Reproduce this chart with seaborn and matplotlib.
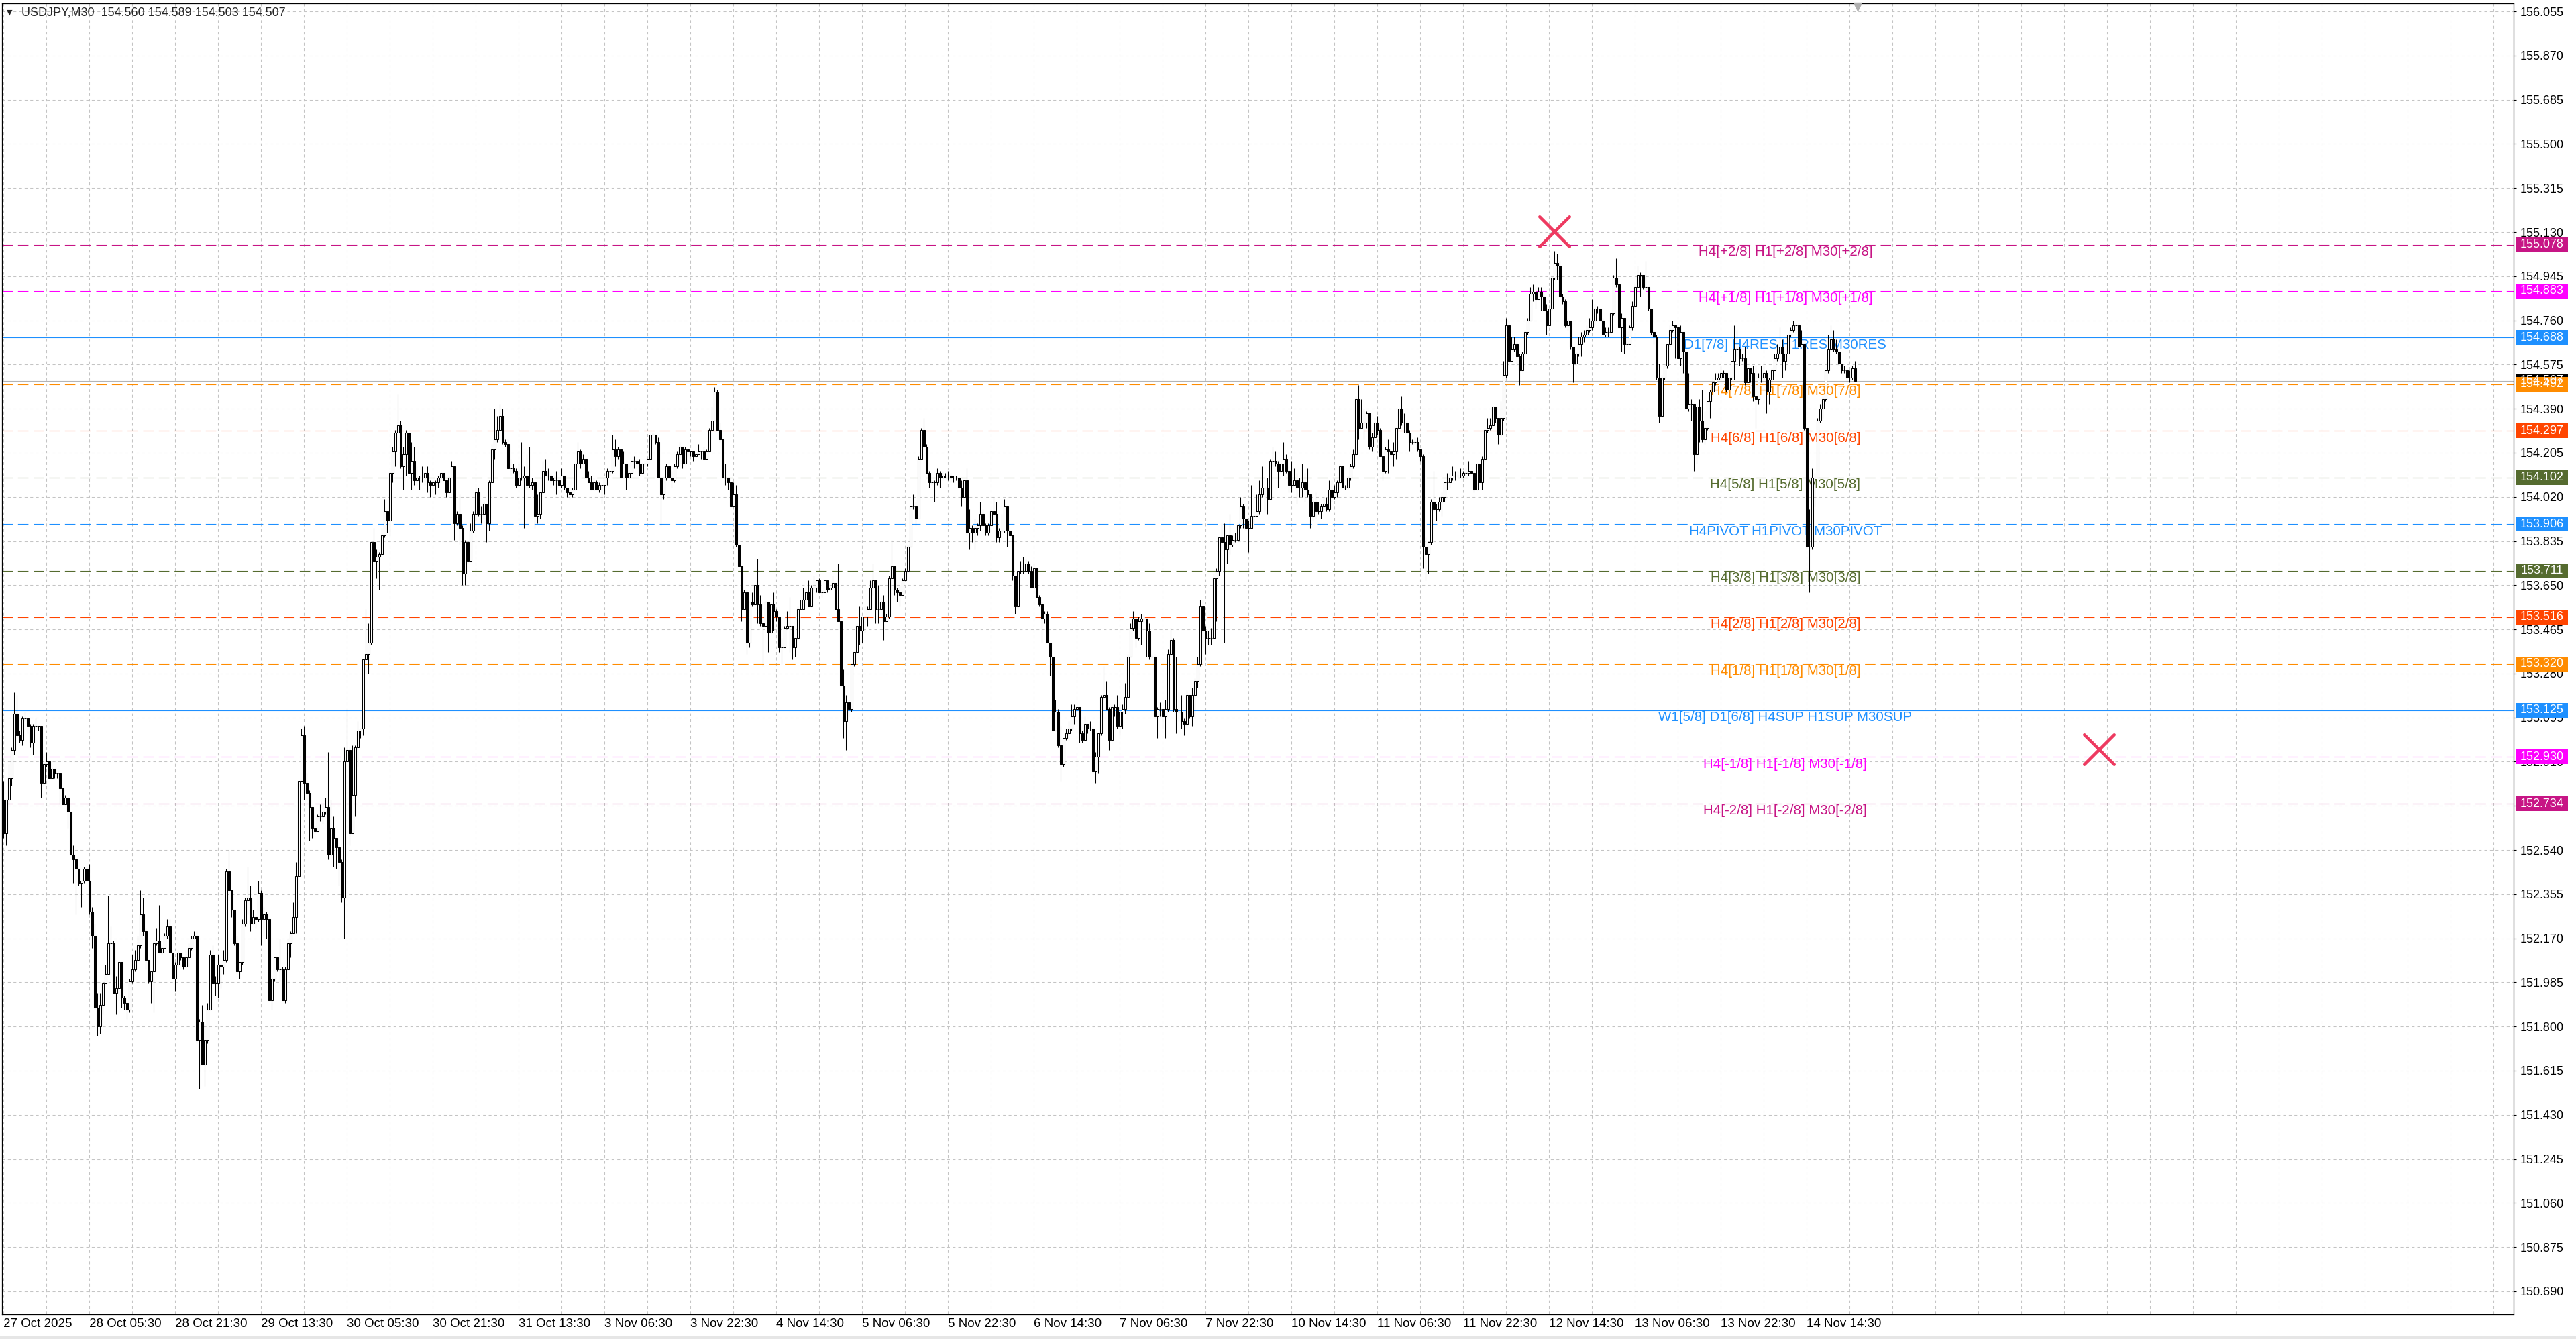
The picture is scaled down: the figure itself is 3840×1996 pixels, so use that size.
import matplotlib
matplotlib.use("Agg")
import matplotlib.pyplot as plt
import matplotlib.transforms as mtransforms
from matplotlib.patches import Rectangle
import numpy as np
import seaborn as sns

# ========================== Data ===================================
SYMBOL = "USDJPY,M30"
LAST_OHLC = [154.560, 154.589, 154.503, 154.507]
FIRST_OPEN = 152.75

# M30 closes (27 Oct 13:30 -> 14 Nov)
closes = [
    152.61, 152.75, 152.84, 152.96, 153.11, 153.02, 153.00, 153.09, 153.09, 153.06,
    152.99, 153.06, 153.06, 153.06, 152.82, 152.90, 152.91, 152.84, 152.88, 152.86,
    152.86, 152.80, 152.73, 152.76, 152.70, 152.52, 152.50, 152.46, 152.40, 152.41,
    152.46, 152.41, 152.28, 152.18, 151.88, 151.80, 151.89, 151.98, 152.02, 152.15,
    152.15, 151.94, 151.96, 152.07, 151.92, 151.90, 151.87, 151.99, 152.04, 152.08,
    152.14, 152.27, 152.20, 152.08, 151.99, 152.03, 152.15, 152.16, 152.11, 152.13,
    152.18, 152.22, 152.11, 152.00, 152.06, 152.11, 152.09, 152.05, 152.09, 152.13,
    152.17, 152.18, 151.74, 151.82, 151.64, 151.74, 151.87, 152.10, 151.98, 151.98,
    152.06, 152.05, 152.08, 152.45, 152.37, 152.29, 152.15, 152.03, 152.07, 152.23,
    152.33, 152.34, 152.23, 152.26, 152.25, 152.36, 152.25, 152.27, 152.25, 151.91,
    152.00, 152.09, 152.04, 152.04, 151.91, 152.04, 152.15, 152.19, 152.26, 152.43,
    152.83, 153.02, 152.82, 152.78, 152.72, 152.63, 152.62, 152.68, 152.68, 152.70,
    152.72, 152.52, 152.63, 152.59, 152.55, 152.49, 152.34, 152.91, 152.96, 152.61,
    152.77, 152.97, 153.04, 153.05, 153.34, 153.36, 153.41, 153.83, 153.75, 153.77,
    153.78, 153.86, 153.96, 153.92, 154.12, 154.21, 154.29, 154.32, 154.15, 154.20,
    154.29, 154.12, 154.17, 154.09, 154.10, 154.10, 154.10, 154.12, 154.08, 154.07,
    154.08, 154.08, 154.10, 154.12, 154.09, 154.04, 154.10, 154.15, 153.91, 153.95,
    153.89, 153.70, 153.83, 153.75, 153.88, 153.95, 154.04, 153.95, 153.95, 153.99,
    153.91, 154.08, 154.22, 154.26, 154.30, 154.36, 154.25, 154.24, 154.14, 154.14,
    154.13, 154.07, 154.10, 154.10, 154.11, 154.07, 154.07, 154.08, 153.94, 153.95,
    154.04, 154.13, 154.11, 154.11, 154.09, 154.09, 154.09, 154.07, 154.11, 154.06,
    154.04, 154.03, 154.05, 154.16, 154.21, 154.16, 154.18, 154.10, 154.08, 154.05,
    154.08, 154.05, 154.07, 154.07, 154.10, 154.13, 154.13, 154.22, 154.19, 154.22,
    154.10, 154.16, 154.10, 154.12, 154.17, 154.17, 154.16, 154.12, 154.16, 154.16,
    154.18, 154.28, 154.28, 154.25, 154.10, 154.03, 154.10, 154.15, 154.10, 154.09,
    154.15, 154.20, 154.23, 154.16, 154.22, 154.21, 154.21, 154.19, 154.20, 154.21,
    154.21, 154.18, 154.21, 154.30, 154.34, 154.46, 154.30, 154.26, 154.10, 154.10,
    154.08, 153.98, 154.03, 153.82, 153.73, 153.55, 153.62, 153.41, 153.58, 153.57,
    153.65, 153.57, 153.49, 153.48, 153.58, 153.45, 153.57, 153.54, 153.52, 153.39,
    153.39, 153.47, 153.48, 153.48, 153.39, 153.43, 153.55, 153.55, 153.59, 153.62,
    153.56, 153.64, 153.64, 153.67, 153.62, 153.62, 153.67, 153.63, 153.64, 153.66,
    153.55, 153.50, 153.23, 153.08, 153.16, 153.13, 153.32, 153.37, 153.48, 153.46,
    153.52, 153.52, 153.55, 153.64, 153.67, 153.55, 153.55, 153.58, 153.50, 153.52,
    153.68, 153.73, 153.63, 153.62, 153.61, 153.67, 153.71, 153.81, 153.98, 153.98,
    153.93, 154.18, 154.30, 154.23, 154.12, 154.08, 154.08, 154.08, 154.12, 154.10,
    154.11, 154.11, 154.11, 154.10, 154.10, 154.10, 154.06, 154.02, 154.09, 153.87,
    153.89, 153.87, 153.89, 153.90, 153.95, 153.90, 153.87, 153.90, 153.96, 153.95,
    153.85, 153.88, 153.88, 153.98, 153.88, 153.86, 153.69, 153.56, 153.71, 153.71,
    153.71, 153.74, 153.71, 153.64, 153.72, 153.60, 153.57, 153.51, 153.53, 153.41,
    153.35, 153.04, 153.12, 152.98, 152.90, 153.01, 153.03, 153.05, 153.10, 153.13,
    153.14, 153.03, 153.00, 153.07, 153.05, 153.05, 152.87, 152.93, 153.03, 153.18,
    153.19, 153.13, 153.00, 153.14, 153.14, 153.06, 153.12, 153.13, 153.18, 153.35,
    153.47, 153.51, 153.43, 153.50, 153.51, 153.51, 153.46, 153.35, 153.35, 153.10,
    153.13, 153.13, 153.10, 153.13, 153.36, 153.42, 153.13, 153.12, 153.12, 153.08,
    153.07, 153.19, 153.10, 153.19, 153.25, 153.32, 153.56, 153.46, 153.43, 153.43,
    153.43, 153.68, 153.71, 153.85, 153.83, 153.80, 153.86, 153.82, 153.84, 153.84,
    153.90, 153.98, 153.93, 153.89, 153.89, 153.94, 153.94, 153.96, 154.03, 154.06,
    154.06, 154.01, 154.17, 154.17, 154.16, 154.13, 154.16, 154.18, 154.13, 154.07,
    154.07, 154.09, 154.06, 154.06, 154.08, 154.05, 154.03, 153.94, 154.00, 153.96,
    153.96, 153.98, 153.99, 153.97, 154.05, 154.02, 154.04, 154.08, 154.15, 154.06,
    154.06, 154.10, 154.15, 154.20, 154.43, 154.31, 154.33, 154.33, 154.37, 154.23,
    154.27, 154.33, 154.30, 154.19, 154.13, 154.22, 154.21, 154.20, 154.21, 154.31,
    154.39, 154.33, 154.33, 154.29, 154.25, 154.25, 154.25, 154.22, 154.19, 153.81,
    153.78, 153.83, 154.00, 153.97, 153.97, 154.00, 154.02, 154.08, 154.08, 154.10,
    154.11, 154.11, 154.11, 154.11, 154.12, 154.12, 154.13, 154.12, 154.05, 154.16,
    154.08, 154.18, 154.30, 154.31, 154.32, 154.40, 154.35, 154.28, 154.35, 154.53,
    154.74, 154.59, 154.64, 154.66, 154.61, 154.55, 154.62, 154.71, 154.76, 154.87,
    154.88, 154.85, 154.88, 154.86, 154.80, 154.74, 154.81, 154.94, 155.00, 154.99,
    154.86, 154.84, 154.74, 154.76, 154.65, 154.58, 154.62, 154.66, 154.69, 154.70,
    154.72, 154.73, 154.76, 154.81, 154.81, 154.76, 154.70, 154.71, 154.71, 154.79,
    154.94, 154.91, 154.73, 154.77, 154.66, 154.66, 154.73, 154.82, 154.90, 154.95,
    154.95, 154.90, 154.90, 154.81, 154.71, 154.69, 154.52, 154.36, 154.52, 154.57,
    154.66, 154.72, 154.74, 154.73, 154.60, 154.71, 154.63, 154.39, 154.41, 154.41,
    154.20, 154.40, 154.34, 154.26, 154.31, 154.42, 154.46, 154.50, 154.51, 154.52,
    154.54, 154.54, 154.47, 154.52, 154.59, 154.64, 154.64, 154.60, 154.60, 154.50,
    154.56, 154.54, 154.44, 154.43, 154.52, 154.52, 154.54, 154.46, 154.51, 154.55,
    154.60, 154.62, 154.65, 154.59, 154.62, 154.70, 154.72, 154.74, 154.74, 154.65,
    154.66, 154.31, 153.81, 153.81, 154.10, 154.10, 154.34, 154.39, 154.43, 154.55,
    154.64, 154.68, 154.64, 154.63, 154.58, 154.55, 154.55, 154.52, 154.52, 154.56,
    154.507,
]

highs = [
    152.83, 152.75, 152.90, 152.97, 153.20, 153.19, 153.04, 153.10, 153.12, 153.09,
    153.07, 153.07, 153.09, 153.06, 153.06, 152.90, 152.95, 152.90, 152.88, 152.87,
    152.86, 152.82, 152.80, 152.77, 152.76, 152.70, 152.56, 152.50, 152.46, 152.41,
    152.47, 152.47, 152.48, 152.30, 152.23, 151.94, 151.94, 151.99, 152.06, 152.35,
    152.22, 152.16, 152.01, 152.08, 152.07, 151.93, 151.90, 152.00, 152.10, 152.12,
    152.18, 152.37, 152.34, 152.21, 152.08, 152.03, 152.16, 152.21, 152.31, 152.14,
    152.19, 152.25, 152.25, 152.11, 152.07, 152.12, 152.11, 152.09, 152.12, 152.15,
    152.18, 152.20, 152.20, 151.83, 151.89, 151.81, 151.90, 152.12, 152.14, 152.01,
    152.10, 152.08, 152.12, 152.46, 152.54, 152.37, 152.29, 152.18, 152.07, 152.25,
    152.34, 152.47, 152.39, 152.29, 152.27, 152.41, 152.37, 152.30, 152.28, 152.25,
    152.01, 152.09, 152.09, 152.17, 152.05, 152.05, 152.17, 152.20, 152.32, 152.49,
    152.83, 153.05, 153.06, 152.86, 152.79, 152.70, 152.64, 152.69, 152.73, 152.73,
    152.76, 152.95, 152.75, 152.68, 152.59, 152.56, 152.50, 152.97, 153.13, 152.97,
    152.98, 152.98, 153.08, 153.05, 153.34, 153.55, 153.49, 153.83, 153.89, 153.80,
    153.79, 153.89, 154.01, 153.96, 154.13, 154.23, 154.30, 154.45, 154.34, 154.23,
    154.30, 154.29, 154.25, 154.23, 154.15, 154.11, 154.15, 154.12, 154.15, 154.09,
    154.08, 154.09, 154.11, 154.12, 154.12, 154.07, 154.11, 154.17, 154.12, 153.96,
    154.03, 153.90, 153.84, 153.84, 153.91, 153.96, 154.06, 154.06, 153.98, 154.00,
    153.99, 154.09, 154.24, 154.39, 154.36, 154.41, 154.39, 154.26, 154.26, 154.18,
    154.16, 154.14, 154.16, 154.25, 154.15, 154.20, 154.23, 154.10, 154.08, 154.03,
    154.04, 154.17, 154.18, 154.14, 154.12, 154.10, 154.13, 154.09, 154.14, 154.11,
    154.06, 154.05, 154.06, 154.16, 154.25, 154.22, 154.20, 154.18, 154.13, 154.11,
    154.10, 154.09, 154.08, 154.07, 154.10, 154.14, 154.13, 154.28, 154.26, 154.23,
    154.22, 154.21, 154.16, 154.16, 154.17, 154.19, 154.18, 154.18, 154.16, 154.17,
    154.18, 154.28, 154.29, 154.28, 154.27, 154.09, 154.10, 154.16, 154.15, 154.13,
    154.16, 154.21, 154.25, 154.23, 154.23, 154.22, 154.21, 154.21, 154.20, 154.24,
    154.21, 154.23, 154.22, 154.31, 154.40, 154.48, 154.47, 154.33, 154.26, 154.16,
    154.10, 154.08, 154.08, 154.07, 153.82, 153.73, 153.63, 153.63, 153.58, 153.62,
    153.65, 153.76, 153.61, 153.49, 153.58, 153.58, 153.58, 153.62, 153.55, 153.52,
    153.43, 153.48, 153.54, 153.60, 153.48, 153.43, 153.56, 153.59, 153.64, 153.64,
    153.67, 153.65, 153.69, 153.67, 153.68, 153.63, 153.67, 153.66, 153.65, 153.69,
    153.66, 153.74, 153.50, 153.30, 153.19, 153.17, 153.32, 153.37, 153.49, 153.56,
    153.52, 153.56, 153.56, 153.67, 153.74, 153.67, 153.65, 153.60, 153.61, 153.53,
    153.69, 153.84, 153.73, 153.64, 153.65, 153.68, 153.72, 153.82, 153.98, 154.03,
    154.00, 154.19, 154.31, 154.35, 154.24, 154.13, 154.09, 154.09, 154.14, 154.13,
    154.13, 154.12, 154.13, 154.12, 154.11, 154.11, 154.10, 154.09, 154.09, 154.14,
    153.97, 153.90, 153.93, 153.91, 154.00, 153.97, 153.91, 153.91, 153.97, 154.02,
    154.00, 153.89, 153.95, 154.01, 153.98, 153.88, 153.86, 153.69, 153.71, 153.75,
    153.77, 153.76, 153.75, 153.73, 153.74, 153.72, 153.61, 153.58, 153.54, 153.54,
    153.41, 153.35, 153.17, 153.13, 153.06, 153.01, 153.05, 153.08, 153.15, 153.15,
    153.14, 153.14, 153.04, 153.10, 153.07, 153.08, 153.06, 152.95, 153.03, 153.19,
    153.31, 153.25, 153.14, 153.15, 153.15, 153.19, 153.15, 153.15, 153.24, 153.36,
    153.49, 153.54, 153.52, 153.52, 153.53, 153.53, 153.51, 153.49, 153.36, 153.36,
    153.14, 153.16, 153.13, 153.17, 153.38, 153.47, 153.43, 153.35, 153.20, 153.19,
    153.09, 153.21, 153.19, 153.22, 153.26, 153.35, 153.59, 153.59, 153.48, 153.46,
    153.47, 153.70, 153.72, 153.85, 153.91, 153.91, 153.86, 153.95, 153.86, 153.87,
    153.91, 154.02, 153.99, 153.93, 153.92, 154.07, 153.97, 154.03, 154.09, 154.15,
    154.06, 154.10, 154.18, 154.23, 154.21, 154.17, 154.18, 154.25, 154.20, 154.15,
    154.17, 154.14, 154.12, 154.10, 154.16, 154.12, 154.14, 154.03, 154.01, 154.04,
    154.00, 153.99, 154.02, 154.02, 154.09, 154.09, 154.07, 154.09, 154.16, 154.08,
    154.07, 154.11, 154.16, 154.22, 154.44, 154.49, 154.43, 154.39, 154.38, 154.37,
    154.29, 154.35, 154.36, 154.31, 154.21, 154.23, 154.26, 154.22, 154.25, 154.31,
    154.39, 154.44, 154.37, 154.34, 154.30, 154.26, 154.27, 154.27, 154.22, 154.20,
    153.85, 153.83, 154.01, 154.13, 153.99, 154.02, 154.04, 154.08, 154.12, 154.12,
    154.15, 154.13, 154.13, 154.14, 154.13, 154.14, 154.17, 154.13, 154.13, 154.16,
    154.16, 154.19, 154.31, 154.35, 154.35, 154.40, 154.40, 154.35, 154.42, 154.59,
    154.77, 154.76, 154.69, 154.69, 154.67, 154.62, 154.63, 154.72, 154.77, 154.90,
    154.91, 154.90, 154.90, 154.90, 154.87, 154.83, 154.81, 154.95, 155.05, 155.04,
    155.01, 154.87, 154.85, 154.77, 154.76, 154.65, 154.63, 154.69, 154.71, 154.72,
    154.74, 154.77, 154.85, 154.83, 154.82, 154.78, 154.77, 154.73, 154.73, 154.79,
    154.95, 155.02, 154.91, 154.79, 154.77, 154.72, 154.74, 154.84, 154.91, 154.99,
    154.96, 154.95, 155.01, 154.90, 154.81, 154.72, 154.70, 154.58, 154.53, 154.57,
    154.66, 154.74, 154.76, 154.74, 154.74, 154.74, 154.71, 154.63, 154.54, 154.43,
    154.41, 154.40, 154.43, 154.47, 154.38, 154.42, 154.47, 154.52, 154.54, 154.54,
    154.57, 154.55, 154.54, 154.52, 154.59, 154.74, 154.72, 154.65, 154.62, 154.65,
    154.57, 154.55, 154.57, 154.57, 154.54, 154.57, 154.57, 154.55, 154.52, 154.56,
    154.62, 154.66, 154.73, 154.68, 154.62, 154.70, 154.73, 154.76, 154.75, 154.75,
    154.72, 154.66, 154.31, 153.97, 154.14, 154.12, 154.35, 154.41, 154.44, 154.55,
    154.70, 154.74, 154.72, 154.68, 154.63, 154.58, 154.57, 154.56, 154.55, 154.57,
    154.589,
]

lows = [
    152.59, 152.56, 152.73, 152.81, 152.94, 153.01, 152.99, 152.98, 153.08, 153.03,
    152.97, 152.94, 153.04, 153.04, 152.76, 152.81, 152.89, 152.84, 152.84, 152.84,
    152.84, 152.73, 152.73, 152.74, 152.63, 152.52, 152.40, 152.27, 152.39, 152.30,
    152.40, 152.41, 152.27, 152.13, 151.87, 151.76, 151.77, 151.85, 151.98, 152.02,
    152.02, 151.94, 151.85, 151.91, 151.88, 151.87, 151.83, 151.86, 151.98, 152.03,
    152.08, 152.13, 152.18, 152.04, 151.98, 151.90, 151.86, 152.14, 152.11, 152.10,
    152.13, 152.17, 152.11, 152.00, 151.95, 152.05, 152.08, 152.04, 152.05, 152.05,
    152.12, 152.17, 151.73, 151.54, 151.64, 151.55, 151.73, 151.89, 151.98, 151.93,
    151.92, 151.96, 152.02, 152.07, 152.33, 152.26, 152.14, 152.02, 152.00, 152.06,
    152.22, 152.27, 152.20, 152.23, 152.21, 152.24, 152.14, 152.18, 152.17, 151.91,
    151.87, 151.99, 152.03, 151.99, 151.91, 151.90, 152.04, 152.09, 152.19, 152.19,
    152.43, 152.83, 152.75, 152.75, 152.58, 152.59, 152.61, 152.63, 152.66, 152.65,
    152.69, 152.50, 152.52, 152.47, 152.46, 152.39, 152.32, 152.17, 152.91, 152.56,
    152.62, 152.68, 152.89, 153.01, 153.02, 153.28, 153.28, 153.40, 153.75, 153.68,
    153.63, 153.78, 153.85, 153.87, 153.86, 154.08, 154.15, 154.29, 154.14, 154.05,
    154.11, 154.12, 154.05, 154.07, 154.07, 154.05, 154.08, 154.07, 154.04, 154.02,
    154.05, 154.03, 154.06, 154.08, 154.09, 154.02, 154.04, 154.10, 153.84, 153.90,
    153.82, 153.65, 153.65, 153.74, 153.75, 153.87, 153.92, 153.94, 153.91, 153.93,
    153.83, 153.88, 154.08, 154.18, 154.25, 154.30, 154.24, 154.23, 154.14, 154.11,
    154.12, 154.06, 154.08, 154.09, 153.89, 154.06, 154.06, 154.05, 153.89, 153.91,
    153.93, 154.03, 154.11, 154.09, 154.06, 154.07, 154.03, 154.06, 154.06, 154.05,
    154.02, 154.01, 154.02, 154.05, 154.15, 154.14, 154.16, 154.10, 154.08, 154.05,
    154.05, 154.05, 154.04, 153.99, 154.03, 154.07, 154.11, 154.12, 154.15, 154.18,
    154.10, 154.10, 154.05, 154.11, 154.12, 154.14, 154.14, 154.11, 154.12, 154.15,
    154.15, 154.18, 154.26, 154.24, 154.10, 153.90, 154.01, 154.09, 154.10, 154.06,
    154.08, 154.14, 154.16, 154.14, 154.16, 154.19, 154.19, 154.17, 154.19, 154.21,
    154.18, 154.18, 154.18, 154.21, 154.30, 154.34, 154.30, 154.25, 154.10, 154.07,
    154.05, 153.97, 153.98, 153.81, 153.73, 153.50, 153.56, 153.36, 153.39, 153.56,
    153.57, 153.49, 153.48, 153.31, 153.48, 153.37, 153.45, 153.46, 153.50, 153.37,
    153.32, 153.39, 153.47, 153.37, 153.34, 153.35, 153.42, 153.55, 153.55, 153.56,
    153.56, 153.56, 153.63, 153.62, 153.62, 153.60, 153.62, 153.62, 153.63, 153.65,
    153.55, 153.50, 153.23, 153.01, 152.96, 153.10, 153.12, 153.31, 153.36, 153.40,
    153.41, 153.45, 153.48, 153.55, 153.61, 153.49, 153.49, 153.55, 153.42, 153.50,
    153.51, 153.68, 153.61, 153.58, 153.56, 153.61, 153.67, 153.70, 153.81, 153.97,
    153.90, 153.95, 154.19, 154.23, 154.12, 154.06, 154.07, 154.00, 154.07, 154.06,
    154.09, 154.10, 154.09, 154.08, 154.08, 154.09, 154.06, 153.98, 154.02, 153.86,
    153.80, 153.83, 153.80, 153.86, 153.88, 153.90, 153.86, 153.86, 153.90, 153.94,
    153.83, 153.83, 153.87, 153.87, 153.81, 153.86, 153.67, 153.53, 153.55, 153.70,
    153.70, 153.71, 153.70, 153.64, 153.64, 153.60, 153.56, 153.41, 153.49, 153.41,
    153.27, 153.04, 153.04, 152.97, 152.83, 152.89, 153.00, 153.00, 153.04, 153.07,
    153.12, 152.99, 152.99, 153.05, 153.03, 153.04, 152.86, 152.82, 152.86, 153.02,
    153.17, 153.13, 152.96, 153.00, 153.10, 153.05, 153.02, 153.05, 153.11, 153.18,
    153.35, 153.46, 153.39, 153.42, 153.40, 153.49, 153.35, 153.34, 153.34, 153.09,
    153.01, 153.10, 153.05, 153.01, 153.12, 153.35, 153.12, 153.03, 153.08, 153.05,
    153.02, 153.06, 153.09, 153.06, 153.09, 153.22, 153.31, 153.39, 153.36, 153.40,
    153.40, 153.43, 153.50, 153.69, 153.80, 153.41, 153.74, 153.78, 153.81, 153.83,
    153.83, 153.89, 153.89, 153.88, 153.79, 153.89, 153.91, 153.94, 153.95, 154.02,
    153.96, 153.95, 154.01, 154.15, 154.15, 154.06, 154.12, 154.11, 154.12, 154.04,
    154.04, 154.08, 153.99, 154.02, 154.02, 154.00, 154.02, 153.89, 153.92, 153.93,
    153.95, 153.93, 153.97, 153.96, 153.96, 154.00, 154.01, 154.02, 154.08, 154.06,
    154.05, 154.05, 154.09, 154.14, 154.19, 154.26, 154.31, 154.26, 154.31, 154.22,
    154.21, 154.26, 154.28, 154.19, 154.09, 154.12, 154.12, 154.18, 154.15, 154.18,
    154.30, 154.32, 154.29, 154.28, 154.21, 154.24, 154.24, 154.21, 154.17, 153.72,
    153.67, 153.70, 153.82, 153.96, 153.92, 153.96, 153.94, 154.00, 154.05, 154.06,
    154.09, 154.09, 154.10, 154.10, 154.10, 154.11, 154.11, 154.12, 154.04, 154.05,
    154.08, 154.05, 154.17, 154.29, 154.30, 154.32, 154.33, 154.24, 154.27, 154.34,
    154.52, 154.57, 154.60, 154.63, 154.57, 154.49, 154.55, 154.62, 154.70, 154.76,
    154.84, 154.81, 154.85, 154.80, 154.80, 154.70, 154.74, 154.80, 154.93, 154.93,
    154.86, 154.83, 154.73, 154.72, 154.64, 154.50, 154.57, 154.61, 154.61, 154.67,
    154.69, 154.71, 154.72, 154.74, 154.79, 154.76, 154.70, 154.69, 154.69, 154.70,
    154.78, 154.90, 154.73, 154.63, 154.62, 154.65, 154.71, 154.72, 154.81, 154.90,
    154.86, 154.89, 154.88, 154.80, 154.70, 154.66, 154.51, 154.33, 154.36, 154.51,
    154.56, 154.65, 154.71, 154.60, 154.60, 154.57, 154.54, 154.39, 154.38, 154.34,
    154.13, 154.16, 154.25, 154.25, 154.24, 154.30, 154.35, 154.44, 154.49, 154.51,
    154.51, 154.52, 154.46, 154.46, 154.51, 154.51, 154.61, 154.57, 154.59, 154.49,
    154.50, 154.50, 154.42, 154.31, 154.41, 154.50, 154.51, 154.37, 154.41, 154.49,
    154.55, 154.59, 154.62, 154.52, 154.55, 154.62, 154.69, 154.71, 154.70, 154.65,
    154.65, 154.30, 153.80, 153.62, 153.80, 153.98, 154.10, 154.33, 154.35, 154.42,
    154.54, 154.63, 154.63, 154.62, 154.57, 154.54, 154.54, 154.50, 154.50, 154.51,
    154.503,
]

x_tick_labels = [
    "27 Oct 2025", "28 Oct 05:30", "28 Oct 21:30", "29 Oct 13:30", "30 Oct 05:30",
    "30 Oct 21:30", "31 Oct 13:30", "3 Nov 06:30", "3 Nov 22:30", "4 Nov 14:30",
    "5 Nov 06:30", "5 Nov 22:30", "6 Nov 14:30", "7 Nov 06:30", "7 Nov 22:30",
    "10 Nov 14:30", "11 Nov 06:30", "11 Nov 22:30", "12 Nov 14:30", "13 Nov 06:30",
    "13 Nov 22:30", "14 Nov 14:30",
]
y_ticks = [150.690, 150.875, 151.060, 151.245, 151.430, 151.615, 151.800, 151.985,
           152.170, 152.355, 152.540, 152.725, 152.910, 153.095, 153.280, 153.465,
           153.650, 153.835, 154.020, 154.205, 154.390, 154.575, 154.760, 154.945,
           155.130, 155.315, 155.500, 155.685, 155.870, 156.055]

level_prices = [155.078, 154.883, 154.688, 154.492, 154.297, 154.102, 153.906,
                153.711, 153.516, 153.320, 153.125, 152.930, 152.734]
level_labels = [
    "H4[+2/8] H1[+2/8] M30[+2/8]", "H4[+1/8] H1[+1/8] M30[+1/8]",
    "D1[7/8] H4RES H1RES M30RES", "H4[7/8] H1[7/8] M30[7/8]",
    "H4[6/8] H1[6/8] M30[6/8]", "H4[5/8] H1[5/8] M30[5/8]",
    "H4PIVOT H1PIVOT M30PIVOT", "H4[3/8] H1[3/8] M30[3/8]",
    "H4[2/8] H1[2/8] M30[2/8]", "H4[1/8] H1[1/8] M30[1/8]",
    "W1[5/8] D1[6/8] H4SUP H1SUP M30SUP", "H4[-1/8] H1[-1/8] M30[-1/8]",
    "H4[-2/8] H1[-2/8] M30[-2/8]",
]

# signal crosses (bar index, price)
signal_bars = [578, 781]
signal_prices = [155.134, 152.961]

# ========================== Styles =================================
level_colors = ["#C71585", "#FF00FF", "#1E90FF", "#FF8C00", "#FF4500", "#556B2F",
                "#1E90FF", "#556B2F", "#FF4500", "#FF8C00", "#1E90FF", "#FF00FF",
                "#C71585"]
level_solid = [False, False, True, False, False, False, False, False, False,
               False, True, False, False]
LABEL_BAR = 664
GRID_C = "#C4C4C4"

W, H = 3840, 1996
L, R, T, B = 3, 3747, 5, 1959

assert len(closes) == len(highs) == len(lows)

sns.set_style("white")
plt.rcParams["font.family"] = ["Liberation Sans", "DejaVu Sans"]

n = len(closes)
x = np.arange(n)
c = np.array(closes)
o = np.r_[FIRST_OPEN, c[:-1]]  # M30 FX bars open at the previous close
h = np.maximum.reduce([np.array(highs), o, c])
lo = np.minimum.reduce([np.array(lows), o, c])

fig = plt.figure(figsize=(W / 100, H / 100), dpi=100)
fig.patch.set_facecolor("white")
ax = fig.add_axes([L / W, 1 - B / H, (R - L) / W, (B - T) / H])
ax.set_facecolor("white")

# grid
for xv in range(0, 936, 16):
    ax.axvline(xv, color=GRID_C, lw=0.75, ls=(0, (4, 4)), zorder=1)
for yv in y_ticks:
    ax.axhline(yv, color=GRID_C, lw=0.75, ls=(0, (4, 4)), zorder=1)

# murrey levels
for p, lab, col, solid in zip(level_prices, level_labels, level_colors, level_solid):
    ax.axhline(p, color=col, lw=0.8, ls="-" if solid else (0, (14, 7)), zorder=2)
    ax.annotate(lab, xy=(LABEL_BAR, p), xytext=(0, -1), textcoords="offset points",
                ha="center", va="top", fontsize=14.8, color=col, zorder=3)

# bid line
ax.axhline(LAST_OHLC[3], color="#B4B4B4", lw=0.8, zorder=2)

# candles
ax.vlines(x, lo, h, colors="black", lw=0.75, zorder=4)
up = c >= o
ax.bar(x[up], c[up] - o[up], bottom=o[up], width=0.78, color="white",
       edgecolor="black", linewidth=0.75, zorder=5)
ax.bar(x[~up], c[~up] - o[~up], bottom=o[~up], width=0.78, color="black",
       edgecolor="black", linewidth=0.75, zorder=5)

# signal crosses
sns.scatterplot(x=signal_bars, y=signal_prices, marker="x", s=32 ** 2,
                color="#EE3A60", linewidth=3.3, ax=ax, zorder=8)
ax.collections[-1].set_capstyle("round")

# chart shift marker
trans = mtransforms.blended_transform_factory(ax.transData, ax.transAxes)
ax.plot([n], [0.9975], marker="v", ms=8, color="#B0B0B0", transform=trans,
        clip_on=False, zorder=9)

ax.set_xlim(-0.6, 935.4)
ax.set_ylim(150.594, 156.089)

ax.set_xticks(range(0, 32 * len(x_tick_labels), 32))
ax.set_xticklabels(x_tick_labels, fontsize=13.5, ha="left")
ax.yaxis.tick_right()
ax.set_yticks(y_ticks)
ax.set_yticklabels([f"{v:.3f}" for v in y_ticks], fontsize=13)
ax.tick_params(axis="x", direction="out", length=3, width=0.8, pad=1.5, colors="black")
ax.tick_params(axis="y", direction="out", length=3, width=0.8, pad=4, colors="black")
for sp in ax.spines.values():
    sp.set_visible(True)
    sp.set_color("black")
    sp.set_linewidth(0.9)

# price boxes on the right scale
lab_ax = fig.add_axes([R / W, 1 - B / H, (W - R) / W, (B - T) / H], sharey=ax)
lab_ax.set_facecolor("none")
lab_ax.set_axis_off()
box_h = 0.062
lab_ax.add_patch(Rectangle((3, LAST_OHLC[3] - box_h / 2), 78, box_h, fc="black", ec="none"))
lab_ax.text(42, LAST_OHLC[3], f"{LAST_OHLC[3]:.3f}", color="white", fontsize=13,
            ha="center", va="center")
for p, col in zip(level_prices, level_colors):
    lab_ax.add_patch(Rectangle((3, p - box_h / 2), 78, box_h, fc=col, ec="none"))
    lab_ax.text(42, p, f"{p:.3f}", color="white", fontsize=13, ha="center", va="center")
lab_ax.set_xlim(0, W - R)
ax.set_ylim(150.594, 156.089)

# header
fig.text(14 / W, 1 - 19 / H, "\u25BC", fontsize=8, ha="center", va="center",
         family=["DejaVu Sans"])
fig.text(32 / W, 1 - 19.5 / H,
         SYMBOL + "  " + " ".join(f"{v:.3f}" for v in LAST_OHLC),
         fontsize=13, ha="left", va="center")

fig.patches.append(Rectangle((0, 0), 1, 4 / H, transform=fig.transFigure,
                             fc="#E6E6E6", ec="none", figure=fig))

fig.savefig("out.png", dpi=100)
